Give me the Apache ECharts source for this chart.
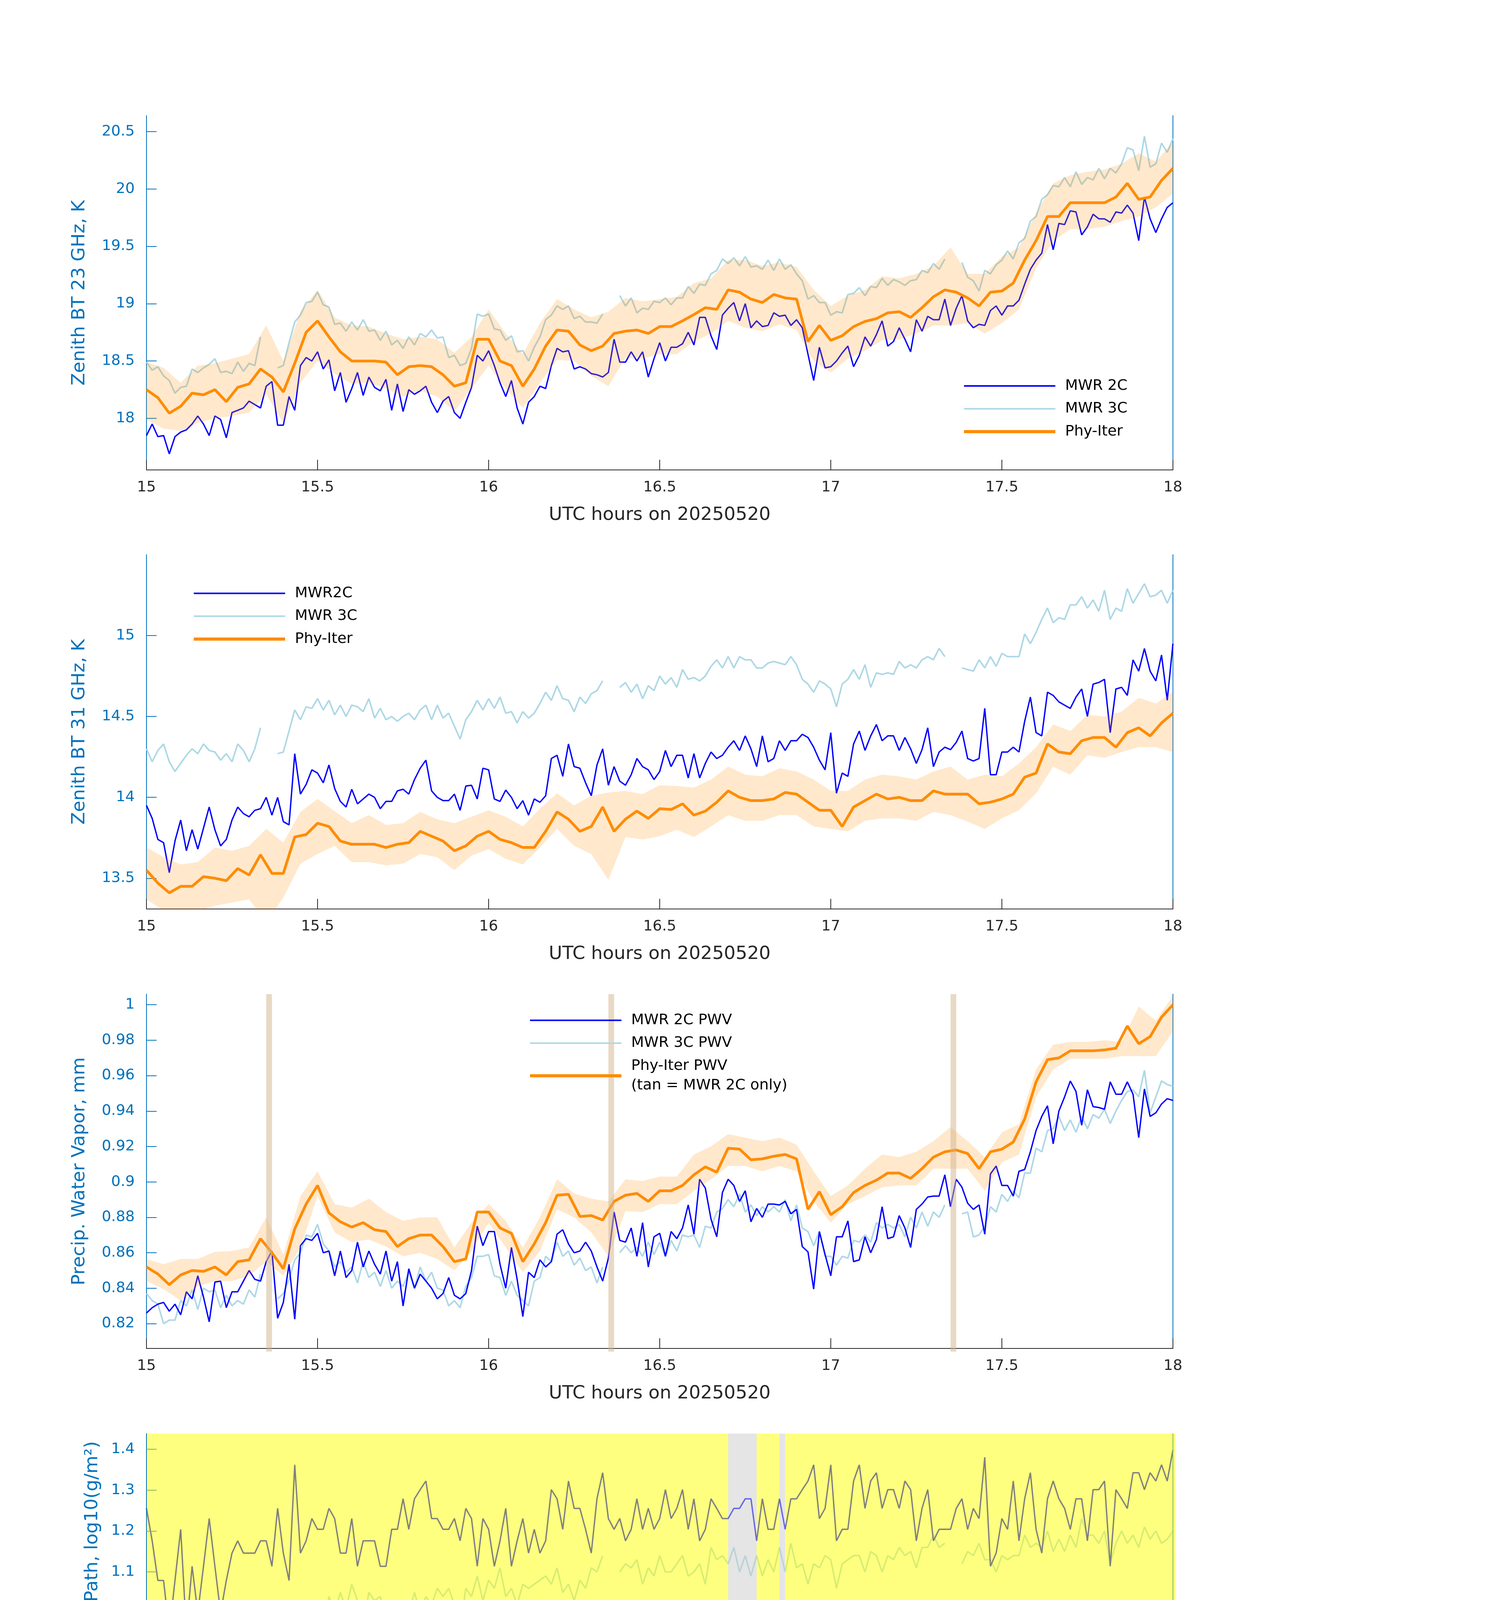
<!DOCTYPE html>
<html><head><meta charset="utf-8">
<script src="https://cdn.jsdelivr.net/npm/echarts@6/dist/echarts.min.js"></script>
<style>html,body{margin:0;padding:0;background:#fff}#c{width:3825px;height:6000px}</style>
</head><body><div id="c"></div>
<script>
// ---------------- DATA ----------------
// 1-minute series span 15:00-18:00 UTC (181 samples), 2-min (91), 3-min (61)
const bt23_2C = [
17.85,17.95,17.84,17.85,17.69,17.84,17.88,17.90,17.95,18.02,
17.95,17.85,18.02,17.99,17.83,18.05,18.07,18.09,18.15,18.12,
18.09,18.28,18.32,17.94,17.94,18.19,18.07,18.46,18.53,18.50,
18.58,18.43,18.51,18.24,18.40,18.14,18.26,18.40,18.20,18.36,
18.27,18.24,18.34,18.07,18.30,18.06,18.25,18.21,18.24,18.28,
18.14,18.05,18.15,18.19,18.05,18.00,18.14,18.27,18.55,18.50,
18.59,18.46,18.31,18.19,18.33,18.09,17.95,18.14,18.19,18.28,
18.26,18.46,18.61,18.58,18.59,18.43,18.45,18.43,18.39,18.38,
18.36,18.40,18.69,18.49,18.49,18.58,18.50,18.58,18.36,18.52,
18.66,18.50,18.62,18.62,18.65,18.75,18.64,18.88,18.88,18.72,
18.60,18.90,18.96,19.01,18.85,19.00,18.79,18.85,18.80,18.81,
18.92,18.89,18.90,18.81,18.86,18.79,18.56,18.33,18.62,18.44,
18.45,18.50,18.57,18.63,18.45,18.55,18.71,18.63,18.73,18.85,
18.63,18.67,18.79,18.69,18.58,18.86,18.76,18.89,18.86,18.86,
19.04,18.81,18.96,19.07,18.85,18.79,18.82,18.81,18.94,18.98,
18.90,18.98,18.98,19.03,19.17,19.30,19.38,19.44,19.69,19.47,
19.70,19.69,19.81,19.80,19.60,19.67,19.78,19.74,19.74,19.71,
19.80,19.79,19.86,19.79,19.55,19.93,19.74,19.62,19.74,19.84,
19.88];
const bt23_3C = [
18.49,18.42,18.45,18.37,18.33,18.22,18.27,18.28,18.43,18.40,
18.44,18.47,18.52,18.40,18.41,18.39,18.49,18.41,18.48,18.46,
18.71,null,null,18.44,18.46,18.66,18.84,18.90,19.01,19.02,
19.10,18.99,18.97,18.82,18.83,18.76,18.84,18.77,18.86,18.76,
18.77,18.68,18.76,18.64,18.68,18.61,18.71,18.64,18.74,18.71,
18.77,18.70,18.71,18.53,18.55,18.46,18.48,18.61,18.91,18.89,
18.91,18.78,18.77,18.68,18.72,18.58,18.59,18.50,18.62,18.71,
18.86,18.90,18.98,18.95,18.98,18.87,18.89,18.84,18.84,18.83,
18.91,null,null,19.07,18.98,19.05,18.92,18.96,18.95,19.02,
19.01,19.05,18.99,19.05,19.05,19.15,19.09,19.17,19.16,19.26,
19.29,19.39,19.35,19.40,19.33,19.41,19.32,19.33,19.30,19.38,
19.29,19.39,19.30,19.34,19.26,19.20,19.04,19.07,19.01,19.01,
18.90,18.93,18.92,19.08,19.09,19.14,19.07,19.15,19.14,19.22,
19.16,19.21,19.19,19.16,19.20,19.21,19.29,19.27,19.35,19.30,
19.39,null,null,19.36,19.23,19.20,19.11,19.29,19.26,19.34,
19.38,19.46,19.39,19.53,19.57,19.72,19.76,19.91,19.95,20.03,
20.02,20.10,20.02,20.15,20.04,20.10,20.08,20.18,20.09,20.18,
20.14,20.22,20.36,20.34,20.16,20.46,20.19,20.22,20.40,20.32,
20.44];
const bt23_phy = [
18.25,18.18,18.045,18.105,18.22,18.205,18.25,18.145,18.27,18.30,
18.43,18.36,18.23,18.48,18.75,18.85,18.71,18.58,18.50,18.50,
18.50,18.49,18.38,18.45,18.46,18.45,18.38,18.28,18.31,18.69,
18.69,18.50,18.46,18.28,18.43,18.63,18.77,18.76,18.64,18.59,
18.63,18.74,18.76,18.77,18.74,18.80,18.80,18.85,18.905,18.965,
18.95,19.12,19.10,19.04,19.01,19.08,19.05,19.04,18.67,18.81,
18.68,18.72,18.80,18.845,18.87,18.92,18.93,18.88,18.965,19.06,
19.12,19.10,19.05,18.98,19.10,19.11,19.18,19.38,19.55,19.76,
19.76,19.88,19.88,19.88,19.88,19.93,20.05,19.91,19.93,20.075,
20.18];
const bt23_lo = [
17.99,17.91,17.89,17.96,18.00,18.02,18.05,18.21,17.96,18.31,
18.50,18.39,18.30,18.31,18.26,18.19,18.24,18.19,18.06,18.26,
18.46,18.26,18.09,18.31,18.51,18.50,18.37,18.28,18.53,18.52,
18.56,18.56,18.67,18.74,18.85,18.79,18.76,18.82,18.77,18.50,
18.40,18.52,18.59,18.68,18.69,18.74,18.81,18.81,18.83,18.74,
18.83,18.95,19.31,19.55,19.65,19.65,19.67,19.72,19.76,19.84,
19.96];
const bt23_hi = [
18.49,18.44,18.31,18.46,18.48,18.52,18.56,18.81,18.50,18.93,
19.12,18.88,18.81,18.80,18.74,18.69,18.71,18.69,18.57,18.71,
18.95,18.74,18.56,18.83,19.04,18.95,18.88,18.93,19.05,19.02,
19.04,19.06,19.18,19.22,19.38,19.38,19.33,19.36,19.32,19.12,
18.98,19.07,19.12,19.24,19.22,19.26,19.33,19.49,19.26,19.26,
19.41,19.49,19.79,20.05,20.12,20.15,20.17,20.22,20.31,20.24,
20.41];

const bt31_2C = [
13.95,13.87,13.74,13.72,13.535,13.73,13.86,13.67,13.80,13.68,
13.81,13.94,13.80,13.70,13.74,13.86,13.94,13.90,13.88,13.92,
13.93,14.00,13.89,14.00,13.85,13.83,14.27,14.02,14.08,14.17,
14.15,14.09,14.20,14.055,13.975,13.94,14.05,13.96,13.99,14.02,
14.00,13.93,13.975,13.975,14.04,14.05,14.02,14.11,14.18,14.23,
14.04,14.00,13.98,13.98,14.02,13.92,14.07,14.075,13.99,14.18,
14.17,13.99,13.975,14.045,14.00,13.93,13.98,13.89,13.99,13.97,
14.01,14.24,14.26,14.13,14.33,14.19,14.18,14.09,14.01,14.20,
14.30,14.075,14.19,14.10,14.075,14.14,14.24,14.19,14.17,14.11,
14.16,14.29,14.19,14.26,14.26,14.12,14.27,14.12,14.21,14.28,
14.24,14.26,14.31,14.35,14.29,14.38,14.30,14.19,14.38,14.22,
14.24,14.35,14.29,14.35,14.35,14.39,14.37,14.31,14.23,14.17,
14.40,14.025,14.15,14.13,14.33,14.41,14.29,14.38,14.45,14.35,
14.38,14.38,14.29,14.37,14.30,14.21,14.295,14.43,14.19,14.28,
14.31,14.295,14.34,14.41,14.24,14.225,14.24,14.55,14.14,14.14,
14.28,14.28,14.31,14.28,14.47,14.62,14.40,14.38,14.65,14.63,
14.59,14.57,14.55,14.62,14.67,14.50,14.70,14.71,14.73,14.40,
14.67,14.68,14.63,14.85,14.78,14.92,14.78,14.72,14.88,14.60,
14.95];
const bt31_3C = [
14.30,14.22,14.29,14.33,14.22,14.16,14.21,14.26,14.30,14.27,
14.33,14.29,14.28,14.23,14.27,14.22,14.33,14.29,14.22,14.30,
14.43,null,null,14.27,14.28,14.41,14.54,14.48,14.56,14.55,
14.61,14.54,14.60,14.51,14.57,14.50,14.57,14.56,14.53,14.61,
14.49,14.55,14.48,14.50,14.47,14.50,14.52,14.48,14.54,14.57,
14.48,14.57,14.49,14.52,14.44,14.36,14.48,14.53,14.60,14.54,
14.61,14.55,14.62,14.52,14.53,14.46,14.53,14.49,14.52,14.58,
14.65,14.60,14.69,14.61,14.60,14.53,14.62,14.58,14.64,14.66,
14.72,null,null,14.68,14.71,14.65,14.70,14.61,14.69,14.66,
14.75,14.70,14.74,14.68,14.79,14.73,14.74,14.72,14.75,14.81,
14.85,14.80,14.87,14.80,14.87,14.85,14.85,14.80,14.80,14.83,
14.84,14.83,14.82,14.87,14.82,14.73,14.70,14.65,14.72,14.70,
14.67,14.56,14.70,14.73,14.79,14.73,14.82,14.68,14.77,14.76,
14.77,14.76,14.84,14.80,14.82,14.80,14.85,14.87,14.85,14.92,
14.87,null,null,14.80,14.79,14.78,14.85,14.80,14.87,14.81,
14.89,14.87,14.87,14.87,15.01,14.95,15.02,15.10,15.17,15.08,
15.11,15.10,15.19,15.19,15.24,15.17,15.22,15.15,15.28,15.10,
15.17,15.15,15.29,15.20,15.26,15.32,15.24,15.25,15.28,15.20,
15.28];
const bt31_phy = [
13.55,13.47,13.41,13.45,13.45,13.51,13.50,13.485,13.56,13.52,
13.645,13.53,13.53,13.755,13.77,13.84,13.82,13.73,13.71,13.71,
13.71,13.69,13.71,13.72,13.79,13.76,13.73,13.67,13.70,13.76,
13.79,13.74,13.72,13.69,13.69,13.79,13.91,13.865,13.79,13.82,
13.94,13.79,13.865,13.915,13.87,13.93,13.925,13.96,13.89,13.915,
13.97,14.04,14.00,13.98,13.98,13.99,14.03,14.02,13.97,13.92,
13.92,13.82,13.94,13.98,14.02,13.99,14.00,13.98,13.98,14.04,
14.02,14.02,14.02,13.96,13.97,13.99,14.02,14.125,14.15,14.33,
14.28,14.27,14.35,14.37,14.37,14.31,14.40,14.43,14.38,14.46,
14.52];
const bt31_lo = [
13.37,13.30,13.30,13.30,13.33,13.35,13.37,13.23,13.38,13.59,
13.65,13.70,13.60,13.60,13.58,13.59,13.65,13.63,13.55,13.64,
13.68,13.62,13.585,13.69,13.805,13.70,13.65,13.49,13.755,13.74,
13.76,13.80,13.755,13.82,13.89,13.855,13.855,13.89,13.89,13.82,
13.805,13.79,13.855,13.87,13.87,13.855,13.91,13.89,13.85,13.805,
13.87,13.92,14.025,14.19,14.14,14.26,14.245,14.28,14.31,14.31,
14.28];
const bt31_hi = [
13.69,13.63,13.585,13.60,13.69,13.67,13.70,13.805,13.72,13.91,
13.99,13.915,13.84,13.89,13.83,13.84,13.91,13.865,13.84,13.88,
13.92,13.88,13.82,13.93,14.025,13.95,14.01,14.03,14.04,14.02,
14.075,14.07,14.06,14.11,14.19,14.14,14.13,14.18,14.16,14.11,
14.04,14.04,14.11,14.14,14.13,14.11,14.16,14.19,14.11,14.14,
14.13,14.21,14.31,14.45,14.41,14.51,14.50,14.53,14.615,14.58,
14.65];

const pwv_2C = [
0.826,0.829,0.831,0.832,0.827,0.831,0.825,0.838,0.834,0.847,
0.835,0.821,0.8435,0.844,0.829,0.838,0.838,0.844,0.850,0.845,
0.844,0.855,0.861,0.823,0.832,0.8535,0.8225,0.864,0.868,0.867,
0.871,0.860,0.861,0.847,0.861,0.846,0.850,0.866,0.852,0.861,
0.8535,0.848,0.861,0.844,0.855,0.830,0.851,0.840,0.848,0.844,
0.840,0.834,0.837,0.846,0.836,0.834,0.837,0.850,0.875,0.864,
0.872,0.872,0.8535,0.840,0.863,0.845,0.824,0.849,0.846,0.856,
0.852,0.855,0.8705,0.873,0.865,0.860,0.861,0.866,0.861,0.852,
0.844,0.857,0.883,0.867,0.866,0.874,0.858,0.877,0.852,0.869,
0.871,0.858,0.872,0.868,0.874,0.887,0.8705,0.9015,0.8965,0.879,
0.869,0.894,0.9015,0.898,0.889,0.895,0.8775,0.885,0.880,0.8875,
0.8875,0.887,0.889,0.882,0.8845,0.8635,0.8605,0.8395,0.872,0.859,
0.847,0.869,0.869,0.878,0.855,0.856,0.869,0.860,0.8675,0.886,
0.868,0.869,0.881,0.874,0.863,0.8845,0.8875,0.8915,0.892,0.892,
0.904,0.886,0.9015,0.897,0.888,0.8845,0.887,0.8705,0.9045,0.909,
0.898,0.898,0.892,0.906,0.907,0.917,0.929,0.937,0.943,0.9215,
0.940,0.948,0.957,0.951,0.932,0.952,0.9425,0.942,0.941,0.9565,
0.9495,0.9495,0.9565,0.9495,0.925,0.9525,0.937,0.939,0.944,0.947,
0.946];
const pwv_3C = [
0.837,0.833,0.831,0.820,0.822,0.822,0.833,0.830,0.839,0.828,
0.840,0.838,0.839,0.829,0.836,0.830,0.833,0.831,0.839,0.835,
0.848,null,null,0.834,0.837,0.845,0.856,0.860,0.870,0.869,
0.876,0.865,0.861,0.852,0.855,0.849,0.852,0.843,0.855,0.846,
0.849,0.841,0.850,0.840,0.844,0.841,0.849,0.840,0.852,0.844,
0.849,0.840,0.839,0.830,0.833,0.829,0.841,0.846,0.858,0.858,
0.859,0.847,0.846,0.836,0.844,0.836,0.833,0.830,0.844,0.846,
0.858,0.855,0.866,0.858,0.861,0.853,0.857,0.850,0.852,0.843,
0.852,null,null,0.860,0.864,0.860,0.863,0.858,0.866,0.859,
0.866,0.858,0.867,0.861,0.870,0.869,0.870,0.863,0.875,0.874,
0.883,0.885,0.890,0.886,0.893,0.883,0.887,0.881,0.886,0.883,
0.886,0.883,0.890,0.878,0.887,0.874,0.872,0.864,0.872,0.858,
0.858,0.853,0.858,0.857,0.867,0.866,0.870,0.866,0.877,0.874,
0.876,0.874,0.876,0.869,0.880,0.874,0.883,0.875,0.883,0.880,
0.887,null,null,0.882,0.883,0.869,0.870,0.875,0.886,0.883,
0.893,0.889,0.895,0.891,0.905,0.905,0.919,0.917,0.929,0.930,
0.937,0.929,0.935,0.928,0.937,0.930,0.938,0.936,0.941,0.933,
0.940,0.946,0.951,0.952,0.948,0.963,0.939,0.948,0.957,0.955,
0.954];
const pwv_phy = [
0.852,0.848,0.842,0.8475,0.850,0.8495,0.852,0.8475,0.855,0.856,
0.868,0.860,0.851,0.8735,0.8875,0.898,0.8825,0.8775,0.8745,0.877,
0.873,0.872,0.8635,0.868,0.870,0.870,0.8635,0.855,0.8565,0.883,
0.883,0.874,0.871,0.855,0.865,0.877,0.8925,0.893,0.8805,0.881,
0.8785,0.889,0.8925,0.8935,0.889,0.895,0.895,0.898,0.904,0.9085,
0.9055,0.919,0.9185,0.9125,0.913,0.9145,0.9155,0.913,0.8845,0.8945,
0.8815,0.886,0.894,0.898,0.901,0.905,0.905,0.902,0.9075,0.914,
0.917,0.918,0.916,0.9075,0.917,0.9185,0.9225,0.9355,0.9565,0.969,
0.970,0.974,0.974,0.974,0.9745,0.9755,0.988,0.978,0.982,0.993,
1.000];
const pwv_lo = [
0.844,0.8395,0.833,0.841,0.844,0.844,0.847,0.855,0.847,0.863,
0.892,0.8715,0.866,0.8675,0.8635,0.858,0.860,0.8565,0.850,0.861,
0.877,0.863,0.849,0.861,0.8845,0.880,0.8715,0.858,0.8835,0.883,
0.8875,0.8875,0.895,0.9015,0.909,0.909,0.906,0.909,0.906,0.889,
0.877,0.8875,0.892,0.897,0.898,0.898,0.9075,0.9075,0.9075,0.895,
0.911,0.9155,0.948,0.9635,0.9695,0.9695,0.9695,0.971,0.971,0.971,
0.985];
const pwv_hi = [
0.8565,0.8535,0.8565,0.8565,0.8605,0.861,0.863,0.880,0.859,0.892,
0.906,0.8875,0.8855,0.8905,0.883,0.878,0.880,0.880,0.863,0.877,
0.8875,0.878,0.863,0.880,0.9015,0.8935,0.8905,0.889,0.9015,0.9005,
0.903,0.903,0.9155,0.920,0.927,0.925,0.923,0.925,0.921,0.906,
0.892,0.898,0.9075,0.9155,0.914,0.917,0.923,0.931,0.923,0.914,
0.928,0.9325,0.9635,0.9775,0.979,0.979,0.980,0.979,0.999,0.991,
1.005];

// LWP, g/m^2 (plotted as log10)
const lwp_2C_gm2 = [
18,15,12,12,9,12,16,9,13,10,
13,17,13,10,12,14,15,14,14,14,
15,15,13,18,14,12,23,14,15,17,
16,16,18,17,14,14,17,13,15,15,
15,13,13,16,16,19,16,19,20,21,
17,17,16,16,17,15,18,17,13,17,
16,13,15,18,13,15,17,14,16,14,
15,20,19,16,21,18,18,16,14,19,
22,17,16,17,15,16,19,16,18,16,
17,20,17,18,20,16,19,15,16,19,
18,17,17,18,18,19,19,15,19,16,
16,19,16,19,19,20,21,23,17,18,
23,15,16,16,21,23,18,21,22,18,
20,20,18,21,20,15,18,20,15,16,
16,16,18,19,16,18,17,24,13,14,
17,16,21,15,19,22,16,14,19,21,
19,18,16,19,19,15,20,20,21,13,
20,19,18,22,22,20,22,21,23,21,
25];
// MWR 3C LWP, log10(g/m^2)
const lwp_3C_log = [
0.87,0.80,0.86,0.95,0.82,0.79,0.64,0.80,0.86,0.84,
0.88,0.83,0.85,0.89,0.82,0.84,0.87,0.86,0.86,0.80,
0.97,null,null,0.84,0.85,0.93,0.99,0.95,1.00,0.98,
0.99,0.97,1.04,1.00,1.05,1.01,1.07,1.03,0.97,1.05,
1.03,1.04,0.98,1.03,0.99,1.01,1.00,1.05,1.00,1.04,
1.02,1.06,1.04,1.06,1.02,0.96,1.06,1.04,1.09,1.03,
1.08,1.06,1.11,1.04,1.06,1.02,1.07,1.06,1.07,1.08,
1.09,1.07,1.11,1.05,1.07,1.03,1.08,1.06,1.11,1.10,
1.14,null,null,1.10,1.12,1.11,1.13,1.07,1.11,1.09,
1.14,1.10,1.10,1.12,1.14,1.09,1.10,1.12,1.07,1.16,
1.13,1.14,1.12,1.16,1.10,1.14,1.09,1.14,1.09,1.13,
1.10,1.16,1.10,1.17,1.11,1.12,1.07,1.12,1.11,1.14,
1.13,1.06,1.12,1.13,1.14,1.14,1.10,1.15,1.14,1.10,
1.14,1.13,1.16,1.14,1.15,1.11,1.16,1.16,1.19,1.16,
1.17,null,null,1.12,1.15,1.14,1.17,1.13,1.13,1.10,
1.14,1.13,1.14,1.14,1.19,1.16,1.17,1.16,1.20,1.15,
1.18,1.15,1.19,1.16,1.23,1.19,1.19,1.17,1.20,1.12,
1.17,1.20,1.17,1.19,1.16,1.21,1.18,1.20,1.17,1.18,
1.20];

// Phy-Iter DQ flag, one per minute (centred on half minutes)
const dqFlag = [
5,5,5,5,5,5,5,5,5,5,5,5,5,5,5,5,5,5,5,5,
5,5,5,5,5,5,5,5,5,5,5,5,5,5,5,5,5,5,5,5,
5,5,5,5,5,5,5,5,5,5,5,5,5,5,5,5,5,5,5,5,
5,5,5,5,5,5,5,5,5,5,5,5,5,5,5,5,5,5,5,5,
5,5,5,5,5,5,5,5,5,5,5,5,5,5,5,5,5,5,5,5,
5,5,3,3,3,3,3,5,5,5,5,3,5,5,5,5,5,5,5,5,
5,5,5,5,5,5,5,5,5,5,5,5,5,5,5,5,5,5,5,5,
5,5,5,5,5,5,5,5,5,5,5,5,5,5,5,5,5,5,5,5,
5,5,5,5,5,5,5,5,5,5,5,5,5,5,5,5,5,5,5,5];

// shaded spans (UTC hours)
const tanSpans = [[15.35,15.3667],[16.35,16.3667],[17.35,17.3667]];
const yellowSpans = [[15.0,16.7],[16.7833,16.85],[16.8667,18.007]];
const graySpans = [[16.7,16.7833],[16.85,16.8667]];

// tick labels
const bt23Ticks = [18,18.5,19,19.5,20,20.5];
const bt31Ticks = [13.5,14,14.5,15];
const pwvTicks = [0.82,0.84,0.86,0.88,0.9,0.92,0.94,0.96,0.98,1];
const lwpTicks = [0.6,0.7,0.8,0.9,1,1.1,1.2,1.3,1.4];
const dqTicks = [0,2,4,6,8,10];
const yRanges = [[17.55,20.64],[13.31,15.50],[0.806,1.006],[0.5726,1.438],[-0.5,11.5]];

// ---------------- CHART ----------------
const FONT = 'DejaVu Sans';
const AXBLUE = '#0072BD', DARK = '#262626';
const C2 = '#0000ff', C3 = '#add8e6', CO = '#ff8c00';
const tops = [296, 1420, 2545, 3670, 4795];

const toXY = arr => { const n = arr.length; return arr.map((v, k) => [15 + 3 * k / (n - 1), v]); };
const fmt = v => String(+(+v).toFixed(3));

function xAx(i, lineColor, z) {
  return { type:'value', gridIndex:i, min:15, max:18, interval:0.5, z: z || 0,
    name:'UTC hours on 20250520', nameLocation:'middle', nameGap:92, nameMoveOverlap:false,
    nameTextStyle:{fontFamily:FONT, fontSize:47, color:DARK},
    axisLine:{show:true, onZero:false, lineStyle:{color:lineColor||DARK, width:2}},
    axisTick:{show:true, inside:true, length:26, lineStyle:{color:lineColor||DARK, width:2}},
    axisLabel:{margin:26, fontFamily:FONT, fontSize:38, color:DARK, formatter:fmt},
    splitLine:{show:false} };
}
function yAx(i, ticks, name, nameGap, tickColor, z) {
  const r = yRanges[i];
  return { type:'value', gridIndex:i, min:r[0], max:r[1], position:'left', z: z || 0,
    name, nameLocation:'middle', nameGap, nameMoveOverlap:false,
    nameTextStyle:{fontFamily:FONT, fontSize:47, color:AXBLUE},
    axisLine:{show:true, onZero:false, lineStyle:{color:AXBLUE, width:2}},
    axisTick:{show:true, inside:true, length:26, customValues:ticks, lineStyle:{color:tickColor||AXBLUE, width:2}},
    axisLabel:{show:true, margin:30, customValues:ticks, fontFamily:FONT, fontSize:38, color:AXBLUE, formatter:fmt},
    splitLine:{show:false} };
}
function yRight(i, color, z) {
  const r = yRanges[i];
  return { type:'value', gridIndex:i, min:r[0], max:r[1], position:'right', z: z || 0,
    axisLine:{show:true, onZero:false, lineStyle:{color:color||AXBLUE, width:2}},
    axisTick:{show:false}, axisLabel:{show:false}, splitLine:{show:false} };
}
function lineS(name, i, arr, color, width, z) {
  return { type:'line', name, xAxisIndex:i, yAxisIndex:2*i, data:toXY(arr), symbol:'none', showSymbol:false,
    lineStyle:{color, width}, itemStyle:{color}, z:z||2, silent:true, animation:false, connectNulls:false };
}
// uncertainty band: one polygon through lower edge then upper edge, positioned by the axes' scales
function bandS(i, lo, hi) {
  const n = lo.length, t = k => 15 + 3 * k / (n - 1);
  return { type:'custom', xAxisIndex:i, yAxisIndex:2*i, z:3, silent:true, clip:true, animation:false,
    data: [[t(0), lo[0]]],
    renderItem: (params, api) => {
      const pts = [];
      for (let k = 0; k < n; k++) pts.push(api.coord([t(k), lo[k]]));
      for (let k = n - 1; k >= 0; k--) pts.push(api.coord([t(k), hi[k]]));
      return { type:'polygon', shape:{points:pts}, style:{fill:'rgba(255,140,0,0.2)'} };
    } };
}
function spanS(i, spans, color) {
  const r = yRanges[i];
  return { type:'custom', xAxisIndex:i, yAxisIndex:2*i, z:10, silent:true, clip:false, animation:false,
    data: spans,
    renderItem: (params, api) => {
      const a = api.coord([api.value(0), r[1]]);
      const b = api.coord([api.value(1), r[0]]);
      return { type:'rect', shape:{x:a[0], y:a[1], width:b[0]-a[0], height:b[1]-a[1]+8}, style:{fill:color} };
    } };
}
function dummyS(name, i, color) {
  return { type:'line', name, xAxisIndex:i, yAxisIndex:2*i, data:[], symbol:'none',
    lineStyle:{color, width:3}, itemStyle:{color}, silent:true };
}
function legendCfg(left, top, items) {
  return { left, top, orient:'vertical', align:'left', itemWidth:234, itemHeight:4, itemGap:8.5,
    padding:0, z:20, selectedMode:false, backgroundColor:'transparent',
    textStyle:{fontFamily:FONT, fontSize:38, color:'#000', lineHeight:50, padding:[0,0,0,20]},
    data: items.map(([name, color, w]) => ({ name, lineStyle:{color, width:w}, itemStyle:{color, opacity:0} })) };
}

const lwpLog2C = lwp_2C_gm2.map(v => Math.log10(v));
const dqData = dqFlag.map((v, k) => [15 + (k + 0.5) / 60, v]);

const option = {
  animation:false, backgroundColor:'#ffffff', textStyle:{fontFamily:FONT},
  grid: tops.map(top => ({left:375, width:2628, top, height:907, containLabel:false, outerBoundsMode:'none'})),
  xAxis: [xAx(0), xAx(1), xAx(2), xAx(3, '#929213', 11), xAx(4)],
  yAxis: [
    yAx(0, bt23Ticks, 'Zenith BT 23 GHz, K', 148), yRight(0),
    yAx(1, bt31Ticks, 'Zenith BT 31 GHz, K', 148), yRight(1),
    yAx(2, pwvTicks, 'Precip. Water Vapor, mm', 148), yRight(2),
    yAx(3, lwpTicks, 'log10 Liquid Water Path, log10(g/m\u00B2)', 115, '#80b95f', 11), yRight(3, '#80b95f', 11),
    yAx(4, dqTicks, 'MWR Phy Iter DQ Flag', 111), yRight(4)
  ],
  legend: [
    legendCfg(2464, 963, [['MWR 2C', C2, 4], ['MWR 3C', C3, 4], ['Phy-Iter', CO, 8]]),
    legendCfg(492, 1494, [['MWR2C', C2, 4], ['MWR 3C', C3, 4], ['Phy-Iter', CO, 8]]),
    legendCfg(1353, 2587, [['MWR 2C PWV', C2, 4], ['MWR 3C PWV', C3, 4], ['Phy-Iter PWV\n(tan = MWR 2C only)', CO, 8]]),
    legendCfg(2300, 4314, [['MWR 2C LWP', C2, 4], ['MWR 3C LWP', C3, 4], ['Phy-Iter LWP', CO, 8], ['Adiabatic LWP', '#800080', 3]])
  ],
  series: [
    // panel 1
    lineS('MWR 3C', 0, bt23_3C, C3, 4, 2),
    lineS('MWR 2C', 0, bt23_2C, C2, 3.5, 2),
    bandS(0, bt23_lo, bt23_hi),
    lineS('Phy-Iter', 0, bt23_phy, CO, 7, 4),
    // panel 2
    lineS('MWR 3C', 1, bt31_3C, C3, 4, 2),
    lineS('MWR2C', 1, bt31_2C, C2, 3.5, 2),
    bandS(1, bt31_lo, bt31_hi),
    lineS('Phy-Iter', 1, bt31_phy, CO, 7, 4),
    // panel 3
    lineS('MWR 3C PWV', 2, pwv_3C, C3, 4, 2),
    lineS('MWR 2C PWV', 2, pwv_2C, C2, 3.5, 2),
    bandS(2, pwv_lo, pwv_hi),
    lineS('Phy-Iter PWV\n(tan = MWR 2C only)', 2, pwv_phy, CO, 7, 4),
    spanS(2, tanSpans, 'rgba(210,180,140,0.5)'),
    // panel 4
    lineS('MWR 3C LWP', 3, lwp_3C_log, C3, 4, 2),
    lineS('MWR 2C LWP', 3, lwpLog2C, C2, 3.5, 2),
    dummyS('Phy-Iter LWP', 3, CO),
    dummyS('Adiabatic LWP', 3, '#800080'),
    spanS(3, yellowSpans, 'rgba(255,255,0,0.5)'),
    spanS(3, graySpans, 'rgba(204,204,204,0.5)'),
    // panel 5
    { type:'scatter', xAxisIndex:4, yAxisIndex:8, data:dqData, symbol:'circle', symbolSize:8,
      itemStyle:{color:CO, opacity:1}, silent:true, animation:false }
  ]
};
const chart = echarts.init(document.getElementById('c'), null, {renderer:'canvas', width:3825, height:6000});
chart.setOption(option);
</script></body></html>
